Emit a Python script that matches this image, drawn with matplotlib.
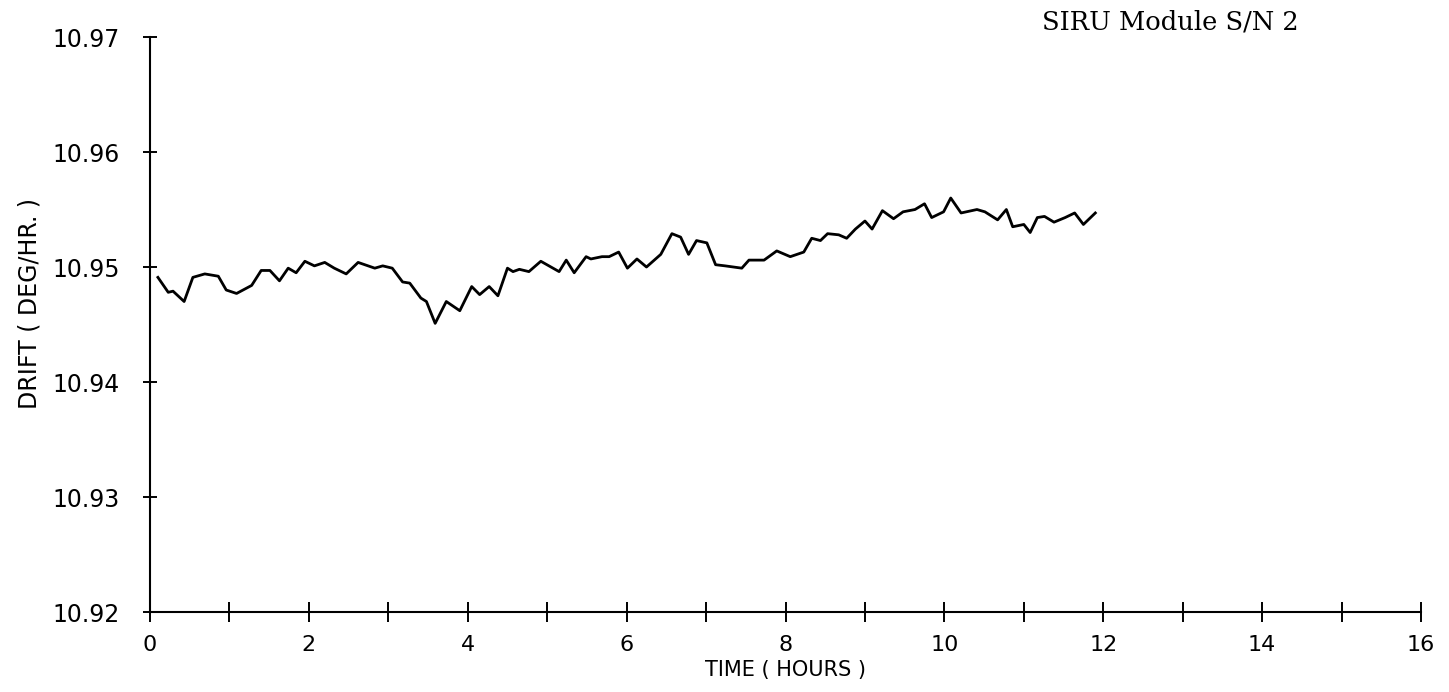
import matplotlib
matplotlib.use("Agg")
import matplotlib.pyplot as plt

# drift readings, SIRU module S/N 2
hours = [0.10, 0.23, 0.29, 0.43, 0.54, 0.69, 0.86, 0.96, 1.09, 1.28, 1.40, 1.51,
         1.63, 1.74, 1.84, 1.95, 2.07, 2.20, 2.32, 2.47, 2.62, 2.83, 2.93, 3.05,
         3.18, 3.27, 3.41, 3.48, 3.59, 3.73, 3.90, 4.05, 4.15, 4.27, 4.38, 4.50,
         4.57, 4.65, 4.77, 4.92, 5.15, 5.24, 5.34, 5.49, 5.55, 5.69, 5.78, 5.90,
         6.01, 6.13, 6.25, 6.43, 6.57, 6.68, 6.78, 6.88, 7.01, 7.12, 7.24, 7.45,
         7.54, 7.73, 7.89, 8.06, 8.23, 8.33, 8.44, 8.53, 8.67, 8.77, 8.88, 9.00,
         9.09, 9.22, 9.36, 9.48, 9.63, 9.75, 9.84, 9.99, 10.08, 10.21, 10.41,
         10.51, 10.67, 10.78, 10.86, 11.00, 11.08, 11.17, 11.26, 11.38, 11.52,
         11.64, 11.75, 11.90]
drift = [10.9491, 10.9478, 10.9479, 10.9470, 10.9491, 10.9494, 10.9492, 10.9480,
         10.9477, 10.9484, 10.9497, 10.9497, 10.9488, 10.9499, 10.9495, 10.9505,
         10.9501, 10.9504, 10.9499, 10.9494, 10.9504, 10.9499, 10.9501, 10.9499,
         10.9487, 10.9486, 10.9473, 10.9470, 10.9451, 10.9470, 10.9462, 10.9483,
         10.9476, 10.9483, 10.9475, 10.9499, 10.9496, 10.9498, 10.9496, 10.9505,
         10.9496, 10.9506, 10.9495, 10.9509, 10.9507, 10.9509, 10.9509, 10.9513,
         10.9499, 10.9507, 10.9500, 10.9511, 10.9529, 10.9526, 10.9511, 10.9523,
         10.9521, 10.9502, 10.9501, 10.9499, 10.9506, 10.9506, 10.9514, 10.9509,
         10.9513, 10.9525, 10.9523, 10.9529, 10.9528, 10.9525, 10.9533, 10.9540,
         10.9533, 10.9549, 10.9542, 10.9548, 10.9550, 10.9555, 10.9543, 10.9548,
         10.9560, 10.9547, 10.9550, 10.9548, 10.9541, 10.9550, 10.9535, 10.9537,
         10.9530, 10.9543, 10.9544, 10.9539, 10.9543, 10.9547, 10.9537, 10.9547]

y_ticks = [10.92, 10.93, 10.94, 10.95, 10.96, 10.97]
y_labels = ["10.92", "10.93", "10.94", "10.95", "10.96", "10.97"]
x_major = [0, 2, 4, 6, 8, 10, 12, 14, 16]
x_minor = [1, 3, 5, 7, 9, 11, 13, 15]

fig = plt.figure(figsize=(14.49, 6.92), dpi=100)
ax = fig.add_axes([0.1035, 0.1156, 0.8772, 0.8309])

ax.plot(hours, drift, color="black", linewidth=2.0)

ax.set_xlim(0, 16)
ax.set_ylim(10.92, 10.97)

ax.spines["top"].set_visible(False)
ax.spines["right"].set_visible(False)
ax.spines["left"].set_linewidth(1.5)
ax.spines["bottom"].set_linewidth(1.5)

ax.set_yticks(y_ticks)
ax.set_yticklabels(y_labels, family="DejaVu Sans", fontsize=17)
ax.set_xticks(x_major)
ax.set_xticklabels([str(v) for v in x_major], family="DejaVu Sans", fontsize=16)
ax.set_xticks(x_minor, minor=True)

ax.tick_params(axis="y", direction="inout", length=9.5, width=1.4, pad=17)
ax.tick_params(axis="x", which="both", direction="inout", length=15, width=1.4, pad=9)

ax.set_xlabel("TIME ( HOURS )", family="DejaVu Sans", fontsize=15, labelpad=4)
ax.set_ylabel("DRIFT ( DEG/HR. )", family="DejaVu Sans", fontsize=17)
ax.yaxis.set_label_coords(-0.085, 0.536)

fig.text(0.719, 0.968, "SIRU Module S/N 2", family="DejaVu Serif",
         fontsize=18.5, ha="left", va="center")

fig.savefig("out.png", dpi=100)
